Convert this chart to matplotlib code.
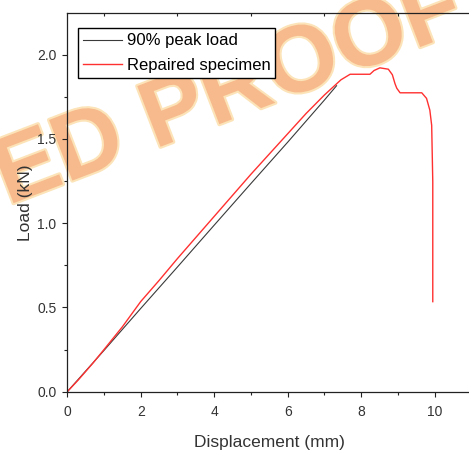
import matplotlib
matplotlib.use("Agg")
import matplotlib.pyplot as plt
import matplotlib.patheffects as pe

# 90% peak load (straight reference line)
peak_x = [0.0, 1.0, 2.0, 3.0, 4.0, 5.0, 6.0, 7.0, 7.33]
peak_y = [0.0, 0.245, 0.494, 0.74, 0.988, 1.235, 1.48, 1.73, 1.815]

# repaired specimen load-displacement curve
rep_x = [0.0, 0.3, 0.7, 1.0, 1.5, 2.0, 2.5, 3.0, 3.5, 4.0, 4.5, 5.0, 5.5, 6.0,
         6.5, 7.0, 7.35, 7.45, 7.7, 8.24, 8.35, 8.51, 8.74, 8.85, 8.92, 8.97,
         9.06, 9.65, 9.78, 9.87, 9.92, 9.95, 9.95]
rep_y = [0.0, 0.07, 0.17, 0.25, 0.385, 0.535, 0.66, 0.79, 0.915, 1.04, 1.165,
         1.29, 1.41, 1.53, 1.65, 1.76, 1.83, 1.85, 1.883, 1.883, 1.905, 1.921,
         1.913, 1.88, 1.828, 1.80, 1.773, 1.773, 1.74, 1.67, 1.58, 1.245, 0.534]

x_ticks = [0, 2, 4, 6, 8, 10]
y_ticks = [0.0, 0.5, 1.0, 1.5, 2.0]


def main():
    plt.rcParams["font.family"] = ["Liberation Sans", "DejaVu Sans"]
    fig = plt.figure(figsize=(4.69, 4.5), dpi=100)
    ax = fig.add_axes([0.1435, 0.1296, 0.8615, 0.841])
    ax.patch.set_alpha(0)

    # watermark behind everything
    fig.text(1.0, 0.937, "CORRECTED PROOF", fontsize=68, fontweight="bold",
             color="#F7BA8C", rotation=21, rotation_mode="anchor",
             ha="right", va="baseline", zorder=-5,
             path_effects=[pe.withStroke(linewidth=3, foreground="#FCE3B8")])

    ax.plot(peak_x, peak_y, color="#3a3a3a", lw=0.8, label="90% peak load")
    ax.plot(rep_x, rep_y, color="#ff3030", lw=1.0, label="Repaired specimen")

    ax.set_xlim(0, 11)
    ax.set_ylim(0, 2.245)
    ax.set_xticks(x_ticks)
    ax.set_xticks([1, 3, 5, 7, 9], minor=True)
    ax.set_yticks(y_ticks)
    ax.set_yticks([0.25, 0.75, 1.25, 1.75], minor=True)
    ax.set_yticklabels([f"{v:.1f}" for v in y_ticks])

    ax.spines["right"].set_visible(False)
    for s in ("left", "bottom", "top"):
        ax.spines[s].set_linewidth(0.9)
        ax.spines[s].set_color("#222222")

    ax.tick_params(which="major", direction="out", length=3.8, width=0.8,
                   labelsize=10, labelcolor="#333333", color="#222222")
    ax.tick_params(axis="x", which="major", pad=6)
    ax.tick_params(axis="y", which="major", pad=4)
    ax.tick_params(which="minor", direction="out", length=2.2, width=0.8,
                   color="#222222")

    top = ax.secondary_xaxis("top")
    top.set_xticks([1, 3, 5, 7, 9])
    top.tick_params(direction="in", length=2.2, width=0.8, labeltop=False,
                    color="#222222")
    top.spines["top"].set_visible(False)

    ax.set_xlabel("Displacement (mm)", fontsize=12.5, color="#333333", labelpad=11)
    ax.set_ylabel("Load (kN)", fontsize=12.5, color="#333333", labelpad=3)

    leg = ax.legend(loc="upper left", bbox_to_anchor=(0.027, 0.96), fontsize=12,
                    frameon=True, fancybox=False, edgecolor="black",
                    handlelength=2.3, handletextpad=0.3, labelspacing=0.55,
                    borderpad=0.3, borderaxespad=0)
    leg.get_frame().set_linewidth(1.0)
    leg.get_frame().set_alpha(None)
    leg.get_frame().set_facecolor("white")

    fig.savefig("out.png", dpi=100)


if __name__ == "__main__":
    main()
